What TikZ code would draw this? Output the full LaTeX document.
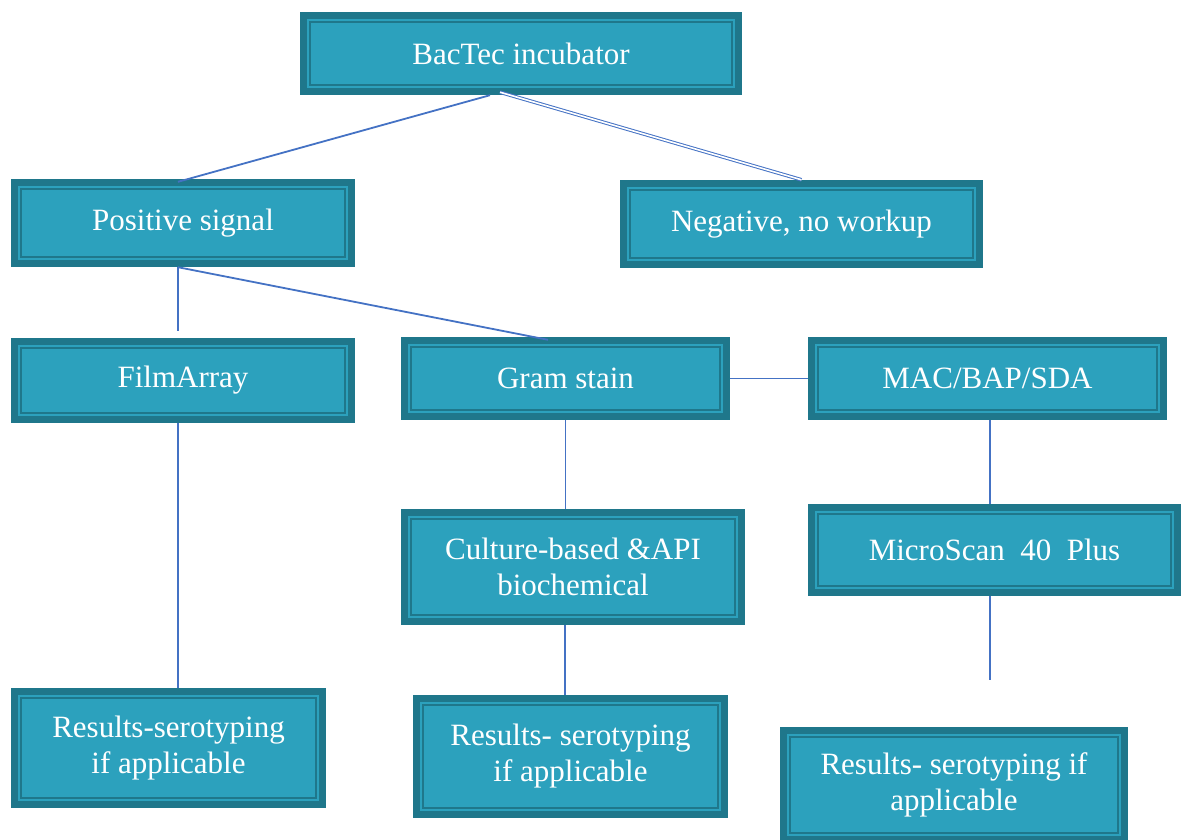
\documentclass[tikz,border=0pt]{standalone}
\usepackage{fontspec}
\newfontfamily\tbfont{Liberation Serif}
\definecolor{tdark}{RGB}{31,119,139}
\definecolor{tlight}{RGB}{44,161,189}
\definecolor{tline}{RGB}{68,114,196}
\tikzset{
  tbox/.style 2 args={rectangle, fill=tdark, draw=none, inner sep=0pt,
    minimum width=#1, minimum height=#2, text=white, align=center,
    font=\tbfont\fontsize{31}{36}\selectfont,
    path picture={
      \fill[tlight] ([shift={(7pt,-7pt)}]path picture bounding box.north west) rectangle ([shift={(-7pt,7pt)}]path picture bounding box.south east);
      \fill[tdark] ([shift={(9pt,-9pt)}]path picture bounding box.north west) rectangle ([shift={(-9pt,9pt)}]path picture bounding box.south east);
      \fill[tlight] ([shift={(11pt,-11pt)}]path picture bounding box.north west) rectangle ([shift={(-11pt,11pt)}]path picture bounding box.south east);
    }},
  conn/.style={draw=tline, line width=1.8pt},
  dconn/.style={draw=tline, line width=1pt, double=white, double distance=1.6pt}
}
\begin{document}
\begin{tikzpicture}[x=1pt,y=-1pt]
\useasboundingbox (0,0) rectangle (1186,839);
\node[tbox={442pt}{83pt}] (bac) at (521,53.5) {BacTec incubator};
\node[tbox={344pt}{88pt}] (pos) at (183,223) {Positive signal};
\node[tbox={363pt}{88pt}] (neg) at (801.5,224) {Negative, no workup};
\node[tbox={344pt}{85pt}] (film) at (183,380) {FilmArray};
\node[tbox={329pt}{83pt}] (gram) at (565.5,378.5) {Gram stain};
\node[tbox={359pt}{83pt}] (mac) at (987.5,378.5) {MAC/BAP/SDA};
\node[tbox={344pt}{116pt}] (cult) at (573,567) {Culture-based \&API\\biochemical};
\node[tbox={373pt}{92pt}] (micro) at (994.5,550) {MicroScan\ \ 40\ \ Plus};
\node[tbox={315pt}{120pt}] (res1) at (168.5,748) {Results-serotyping\\if applicable};
\node[tbox={315pt}{123pt}] (res2) at (570.5,756.5) {Results- serotyping\\if applicable};
\node[tbox={348pt}{116pt}] (res3) at (954,785) {Results- serotyping if\\applicable};
\coordinate (pend) at (178,331);
\coordinate (mend) at (990,680);
% connectors
\draw[conn] ([xshift=-31pt]bac.south) -- ([shift={(-5pt,-3pt)}]pos.north);
\draw[dconn] ([shift={(-21pt,3pt)}]bac.south) -- (neg.north);
\draw[conn] ([xshift=-5pt]pos.south) -- (pend);
\draw[conn] ([xshift=-5pt]pos.south) -- ([shift={(-17.5pt,-3pt)}]gram.north);
\draw[conn] ([xshift=-5pt]film.south) -- ([xshift=-5pt]film.south |- res1.north);
\draw[conn] (gram.east) -- (mac.west);
\draw[conn] (gram.south) -- (gram.south |- cult.north);
\draw[conn] ([xshift=-8pt]cult.south) -- ([xshift=-8pt]cult.south |- res2.north);
\draw[conn] ([xshift=2.5pt]mac.south) -- ([xshift=2.5pt]mac.south |- micro.north);
\draw[conn] ([xshift=-4.5pt]micro.south) -- (mend);
\end{tikzpicture}
\end{document}
